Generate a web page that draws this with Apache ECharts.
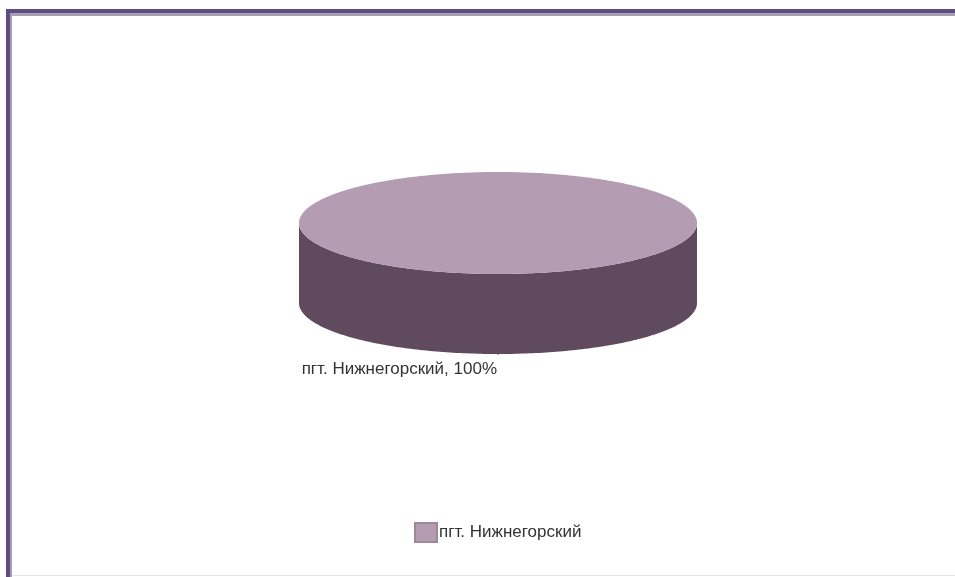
<!DOCTYPE html>
<html>
<head>
<meta charset="utf-8">
<script src="https://cdn.jsdelivr.net/npm/echarts@6/dist/echarts.min.js"></script>
<style>
  html, body { margin: 0; padding: 0; background: #fff; }
  #chart { width: 955px; height: 577px; }
</style>
</head>
<body>
<div id="chart"></div>
<script>
// Settlements and their share, %
const categories = ['пгт. Нижнегорский'];
const values = [100];

// Slice colours: lid and rim
const topColors = ['#B49DB3'];
const sideColors = ['#5F4A5E'];

const chart = echarts.init(document.getElementById('chart'), null, { renderer: 'canvas' });

// Tilted-disc geometry (pixels)
const disc = { cx: 498, cy: 223, rx: 199, ry: 51, depth: 80 };
const total = values.reduce((a, b) => a + b, 0);
const FONT = '"Liberation Sans", Arial, sans-serif';

function pt(a, dy) {
  return [disc.cx + disc.rx * Math.cos(a), disc.cy + dy + disc.ry * Math.sin(a)];
}
function arc(a1, a2, dy) {
  const n = Math.max(8, Math.ceil(Math.abs(a2 - a1) / (Math.PI / 180)));
  const out = [];
  for (let i = 0; i <= n; i++) out.push(pt(a1 + (a2 - a1) * i / n, dy));
  return out;
}

function renderItem(params, api) {
  const idx = params.dataIndex;
  let before = 0;
  for (let i = 0; i < idx; i++) before += values[i];
  const v = api.value(0);
  // start at the top of the disc, sweep clockwise
  const start = -Math.PI / 2 + 2 * Math.PI * before / total;
  const end = start + 2 * Math.PI * v / total;
  const full = v >= total;
  const children = [];

  // Visible rim: portion of the arc on the near half (angles 0..PI, mod 2PI)
  const ranges = [];
  for (let k = -1; k <= 1; k++) {
    const lo = Math.max(start, k * 2 * Math.PI);
    const hi = Math.min(end, k * 2 * Math.PI + Math.PI);
    if (hi > lo) ranges.push([lo, hi]);
  }
  ranges.forEach(r => {
    const topArc = arc(r[0], r[1], 0);
    const botArc = arc(r[0], r[1], disc.depth).reverse();
    children.push({
      type: 'polygon',
      shape: { points: topArc.concat(botArc) },
      style: { fill: sideColors[idx % sideColors.length] }
    });
  });

  // Lid
  const lid = arc(start, end, 0);
  if (!full) lid.unshift([disc.cx, disc.cy]);
  children.push({
    type: 'polygon',
    shape: { points: lid },
    style: { fill: topColors[idx % topColors.length] }
  });

  // Label beneath the slice's middle
  const mid = (start + end) / 2;
  const anchor = pt(mid, disc.depth);
  children.push({
    type: 'line',
    shape: { x1: anchor[0], y1: anchor[1] - 2, x2: anchor[0], y2: anchor[1] + 1 },
    style: { stroke: '#555', lineWidth: 1 }
  });
  const pct = Math.round(v / total * 100);
  children.push({
    type: 'text',
    x: anchor[0] - 1,
    y: anchor[1] + 7,
    style: {
      text: categories[idx] + ', ' + pct + '%',
      textAlign: 'right',
      textVerticalAlign: 'top',
      fill: '#333',
      font: '17px ' + FONT
    }
  });
  return { type: 'group', children };
}

chart.setOption({
  animation: false,
  backgroundColor: '#fff',
  legend: {
    data: [categories[0]],
    left: 414,
    top: 522,
    padding: 0,
    icon: 'rect',
    itemWidth: 22,
    itemHeight: 19,
    itemGap: 10,
    textStyle: {
      color: '#333',
      fontSize: 17,
      fontFamily: FONT,
      padding: [0, 0, 0, -3]
    }
  },
  color: topColors,
  graphic: [
    // frame: purple rule with a grey inner shadow along top and left
    { type: 'rect', shape: { x: 6, y: 9, width: 949, height: 4 }, style: { fill: '#5F4C82' }, silent: true },
    { type: 'rect', shape: { x: 10, y: 13, width: 945, height: 3 }, style: { fill: '#A69EB2' }, silent: true },
    { type: 'rect', shape: { x: 6, y: 9, width: 4, height: 568 }, style: { fill: '#5F4C82' }, silent: true },
    { type: 'rect', shape: { x: 10, y: 13, width: 2, height: 564 }, style: { fill: '#A69EB2' }, silent: true },
    { type: 'rect', shape: { x: 12, y: 575, width: 943, height: 1 }, style: { fill: '#E6E6E6' }, silent: true }
  ],
  series: [{
    type: 'custom',
    name: categories[0],
    coordinateSystem: 'none',
    renderItem: renderItem,
    itemStyle: { color: topColors[0], borderColor: '#9c8a9b', borderWidth: 1 },
    data: values.map((v, i) => ({ name: categories[i], value: [v] }))
  }]
});
</script>
</body>
</html>
